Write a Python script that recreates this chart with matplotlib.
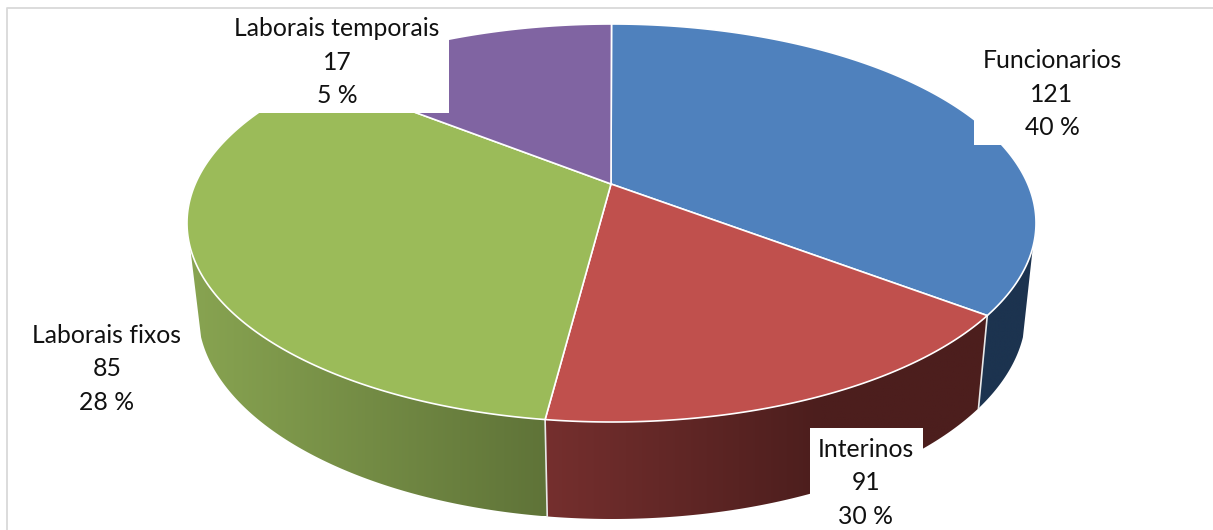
import matplotlib
matplotlib.use('Agg')
import matplotlib.pyplot as plt
import numpy as np
from matplotlib.patches import Polygon, Rectangle

categories = ['Funcionarios', 'Interinos', 'Laborais fixos', 'Laborais temporais']
counts = [121, 91, 85, 17]
percents = [40, 30, 28, 5]
# the drawn slices do not follow the printed numbers, these shares are read off the picture
slice_shares = [32.7, 19.8, 35.5, 12.0]

face_colors = ['#4F81BD', '#C0504D', '#9BBB59', '#8064A2']
# wall colour at the left and right end of each slice's wall
wall_colors = [('#1C334F', '#1C334F'), ('#752F2E', '#4C1E1D'), ('#88A451', '#5F7338'), ('#4D3C62', '#4D3C62')]
# part of the wall's width the gradient takes, flat after that
wall_fade = [1, 0.62, 1, 1]

# pixel layout of the pie
apex = (611, 184)
top_rim = (611.5, 223, 424.5, 199)
bottom_rim = (612, 312, 414, 207)
wall_start, wall_end = 97, 263

# text centre x, text centre y, box left, top, right, bottom
label_boxes = [
    (1052, 94, 974, 42, 1130, 145),
    (866, 483, 810, 428, 923, 535),
    (107, 369, 30, 318, 184, 418),
    (337, 62, 225, 13, 449, 113),
]


def rim_points(rim, angles):
    cx, cy, rx, ry = rim
    t = np.radians(angles)
    return np.column_stack([cx + rx * np.sin(t), cy - ry * np.cos(t)])


plt.rcParams['font.family'] = ['Lato', 'DejaVu Sans']
fig = plt.figure(figsize=(12.13, 5.30), dpi=100)
ax = fig.add_axes([0, 0, 1, 1])

edges = np.concatenate([[0], np.cumsum(slice_shares)]) / sum(slice_shares) * 360

# side walls first, the faces go over them
for i in range(len(categories)):
    start, end = max(edges[i], wall_start), min(edges[i + 1], wall_end)
    if start >= end:
        continue
    angles = np.linspace(start, end, 120)
    outline = np.vstack([rim_points(top_rim, angles), rim_points(bottom_rim, angles[::-1])])
    x0, x1 = outline[:, 0].min(), outline[:, 0].max()
    y0, y1 = outline[:, 1].min(), outline[:, 1].max()
    left = np.array(matplotlib.colors.to_rgb(wall_colors[i][0]))
    right = np.array(matplotlib.colors.to_rgb(wall_colors[i][1]))
    steps = np.clip(np.linspace(0, 1, 256) / wall_fade[i], 0, 1)[:, None]
    grad = (left * (1 - steps) + right * steps)[None, :, :]
    im = ax.imshow(grad, extent=[x0, x1, y1, y0], aspect='auto', zorder=1, interpolation='bilinear')
    im.set_clip_path(Polygon(outline, closed=True, transform=ax.transData))
    # white seam between walls
    if edges[i + 1] < wall_end:
        seam = np.vstack([rim_points(top_rim, [edges[i + 1]]), rim_points(bottom_rim, [edges[i + 1]])])
        ax.plot(seam[:, 0], seam[:, 1], color='#E8E8E8', lw=1.2, zorder=2)

# top faces
for i in range(len(categories)):
    angles = np.linspace(edges[i], edges[i + 1], 200)
    outline = np.vstack([[apex], rim_points(top_rim, angles)])
    ax.add_patch(Polygon(outline, closed=True, facecolor=face_colors[i], edgecolor='white',
                         linewidth=1.2, joinstyle='round', zorder=3))

# white label boxes cover the pie, as in the original
for i in range(len(categories)):
    tx, ty, bx0, by0, bx1, by1 = label_boxes[i]
    ax.add_patch(Rectangle((bx0, by0), bx1 - bx0, by1 - by0, facecolor='white', edgecolor='none', zorder=4))
    ax.text(tx, ty, f'{categories[i]}\n{counts[i]}\n{percents[i]} %', ha='center', va='center',
            fontsize=17.8, color='#111111', linespacing=1.55, zorder=5)

# chart frame, cut off on the right and at the bottom
ax.plot([7, 7, 1213], [530, 8, 8], color='#D9D9D9', lw=1.3, zorder=6)

ax.set_xlim(0, 1213)
ax.set_ylim(530, 0)
ax.axis('off')
fig.savefig('out.png', dpi=100, facecolor='white')
